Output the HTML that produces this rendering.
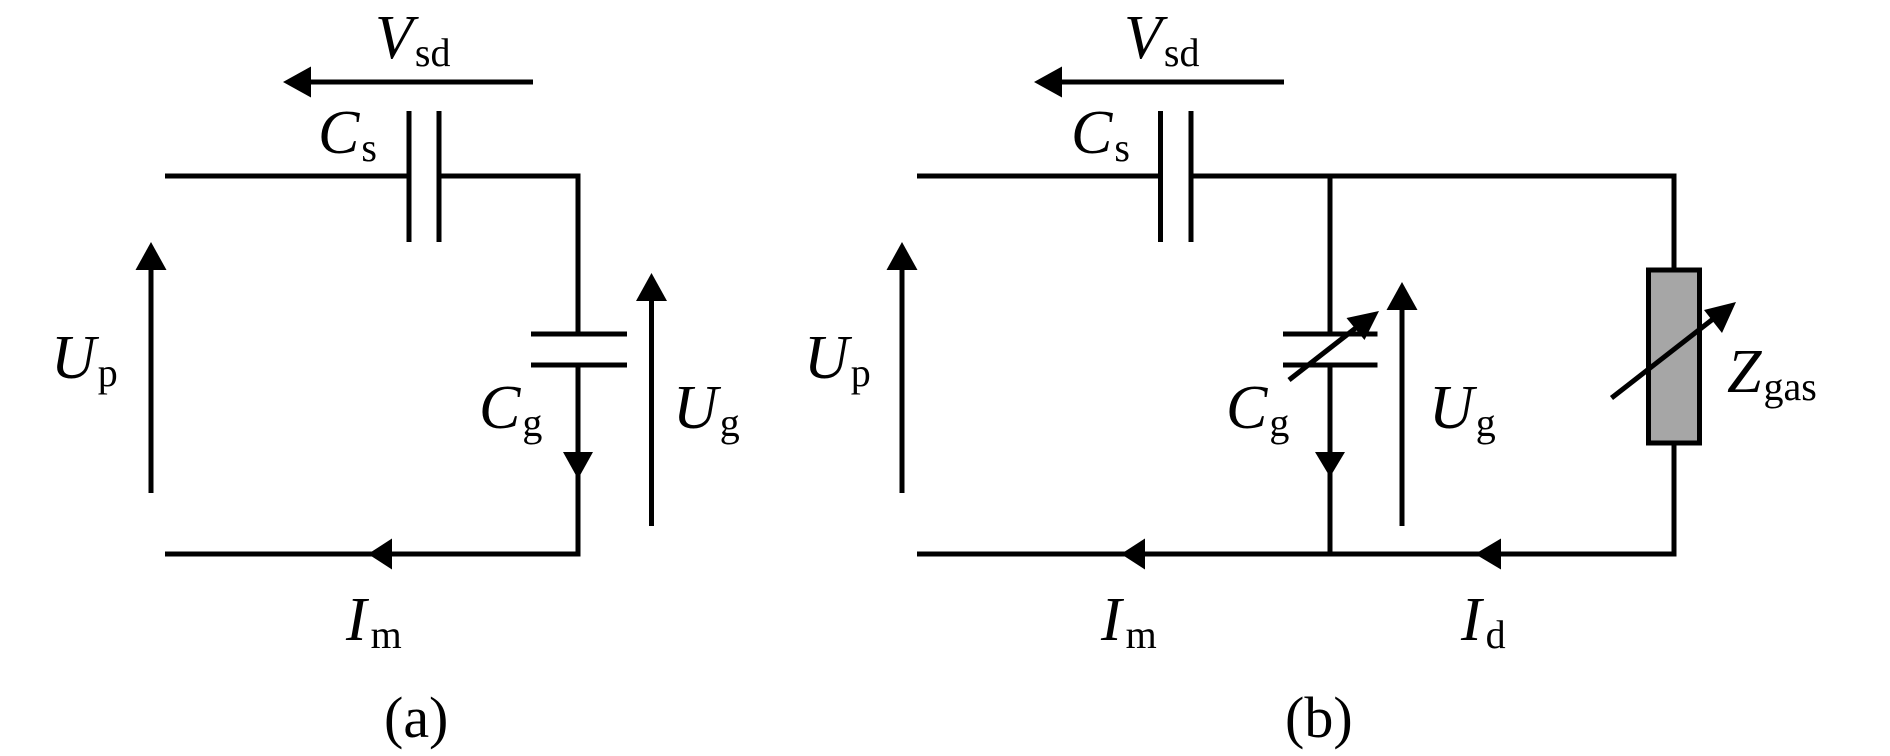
<!DOCTYPE html>
<html><head><meta charset="utf-8"><style>
html,body{margin:0;padding:0;background:#fff;}
svg{display:block;}
text{font-family:"Liberation Serif",serif;fill:#000;}
.m{font-style:italic;font-size:62px;}
.s{font-style:normal;font-size:40px;}
.c{font-size:58px;}
</style></head><body>
<svg width="1890" height="756" viewBox="0 0 1890 756" xmlns="http://www.w3.org/2000/svg">
<g stroke="#000" stroke-width="5" fill="none" stroke-linecap="butt">
<!-- Panel A -->
<polyline points="165,176 409,176"/>
<polyline points="439,176 578,176 578,334"/>
<line x1="409" y1="111" x2="409" y2="242"/>
<line x1="439" y1="111" x2="439" y2="242"/>
<line x1="531" y1="334" x2="627" y2="334"/>
<line x1="531" y1="365" x2="627" y2="365"/>
<polyline points="578,365 578,554 165,554"/>
<line x1="533" y1="82" x2="300" y2="82"/>
<line x1="151" y1="493" x2="151" y2="260"/>
<line x1="651.5" y1="526" x2="651.5" y2="290"/>
<!-- Panel B -->
<polyline points="917,176 1160.5,176"/>
<polyline points="1191,176 1674,176 1674,270"/>
<line x1="1160.5" y1="111" x2="1160.5" y2="242"/>
<line x1="1191" y1="111" x2="1191" y2="242"/>
<line x1="1330" y1="176" x2="1330" y2="334"/>
<line x1="1283" y1="334" x2="1377.5" y2="334"/>
<line x1="1283" y1="365" x2="1377.5" y2="365"/>
<line x1="1330" y1="365" x2="1330" y2="554"/>
<polyline points="1674,443 1674,554 917,554"/>
<rect x="1648.5" y="270" width="51" height="173" fill="#a6a6a6"/>
<line x1="1284" y1="82" x2="1050" y2="82"/>
<line x1="902" y1="493" x2="902" y2="260"/>
<line x1="1402" y1="526" x2="1402" y2="295"/>
<line x1="1289" y1="380" x2="1366" y2="320"/>
<line x1="1611.5" y1="398" x2="1722" y2="312"/>
</g>
<g fill="#000">
<polygon points="283,82 311,66.5 311,97.5"/>
<polygon points="151,242 135.5,270 166.5,270"/>
<polygon points="651.5,273 636,301 667,301"/>
<polygon points="578,479 563,452 593,452"/>
<polygon points="368,554 392,538.5 392,569.5"/>
<polygon points="1034,82 1062,66.5 1062,97.5"/>
<polygon points="902,242 886.5,270 917.5,270"/>
<polygon points="1402,282 1386.5,310 1417.5,310"/>
<polygon points="1330,477 1315,452 1345,452"/>
<polygon points="1121,554 1145,538.5 1145,569.5"/>
<polygon points="1475,554 1501,538.5 1501,569.5"/>
<polygon points="1379,311 1346.5,318 1364.5,340"/>
<polygon points="1736,302 1704,310 1722,333"/>
</g>
<!-- labels A -->
<text x="375" y="58"><tspan class="m">V</tspan><tspan class="s" dx="2" dy="8">sd</tspan></text>
<text x="318" y="153"><tspan class="m">C</tspan><tspan class="s" dx="2" dy="8">s</tspan></text>
<text x="51" y="378"><tspan class="m">U</tspan><tspan class="s" dx="2" dy="8">p</tspan></text>
<text x="479" y="428"><tspan class="m">C</tspan><tspan class="s" dx="2" dy="8">g</tspan></text>
<text x="673" y="428"><tspan class="m">U</tspan><tspan class="s" dx="2" dy="8">g</tspan></text>
<text x="346" y="640"><tspan class="m">I</tspan><tspan class="s" dx="4" dy="8">m</tspan></text>
<text x="384" y="737" class="c">(a)</text>
<!-- labels B -->
<text x="1124" y="58"><tspan class="m">V</tspan><tspan class="s" dx="2" dy="8">sd</tspan></text>
<text x="1071" y="153"><tspan class="m">C</tspan><tspan class="s" dx="2" dy="8">s</tspan></text>
<text x="804" y="378"><tspan class="m">U</tspan><tspan class="s" dx="2" dy="8">p</tspan></text>
<text x="1226" y="428"><tspan class="m">C</tspan><tspan class="s" dx="2" dy="8">g</tspan></text>
<text x="1429" y="428"><tspan class="m">U</tspan><tspan class="s" dx="2" dy="8">g</tspan></text>
<text x="1727" y="392"><tspan class="m">Z</tspan><tspan class="s" dx="2" dy="8">gas</tspan></text>
<text x="1101" y="640"><tspan class="m">I</tspan><tspan class="s" dx="4" dy="8">m</tspan></text>
<text x="1461" y="640"><tspan class="m">I</tspan><tspan class="s" dx="4" dy="8">d</tspan></text>
<text x="1285" y="737" class="c">(b)</text>
</svg>
</body></html>
